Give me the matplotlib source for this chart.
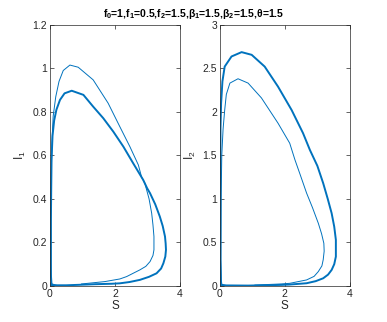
import matplotlib
matplotlib.use("Agg")
import matplotlib.pyplot as plt

plt.rcParams["font.family"] = ["Liberation Sans", "DejaVu Sans"]
plt.rcParams["mathtext.default"] = "regular"

blue = "#0072BD"

# limit cycle (thick) and transient (thin), S vs I1
s1_cycle = [0.05, 0.15, 0.5, 0.87, 1.4, 1.9, 2.15, 2.45, 2.77, 3.05, 3.28, 3.42, 3.49, 3.55,
            3.57, 3.56, 3.54, 3.47, 3.38, 3.24, 3.08, 2.99, 2.87, 2.56, 2.26, 1.95, 1.64, 1.33,
            1.03, 0.67, 0.45, 0.31, 0.2, 0.13, 0.08, 0.05, 0.04, 0.03, 0.03, 0.03, 0.05]
i1_cycle = [0.005, 0.003, 0.003, 0.005, 0.008, 0.01, 0.012, 0.018, 0.028, 0.042, 0.058, 0.08,
            0.104, 0.135, 0.166, 0.195, 0.227, 0.275, 0.319, 0.375, 0.426, 0.449, 0.487, 0.564,
            0.64, 0.709, 0.771, 0.824, 0.878, 0.897, 0.885, 0.855, 0.81, 0.76, 0.69, 0.58, 0.45,
            0.3, 0.15, 0.05, 0.005]
s1_trans = [0.97, 1.69, 2.15, 2.36, 2.77, 2.95, 3.08, 3.17, 3.2, 3.2, 3.17, 3.13, 3.05, 2.92,
            2.82, 2.72, 2.46, 2.15, 1.79, 1.33, 0.87, 0.615, 0.41, 0.28, 0.18, 0.10, 0.06, 0.04,
            0.03, 0.03, 0.05, 0.2]
i1_trans = [0.009, 0.02, 0.032, 0.043, 0.074, 0.09, 0.112, 0.14, 0.166, 0.227, 0.28, 0.334,
            0.40, 0.472, 0.50, 0.556, 0.64, 0.732, 0.84, 0.947, 1.005, 1.015, 0.99, 0.94, 0.87,
            0.78, 0.65, 0.5, 0.3, 0.1, 0.01, 0.003]

# S vs I2
s2_cycle = [0.05, 0.15, 0.87, 1.4, 1.9, 2.15, 2.67, 2.95, 3.18, 3.33, 3.44, 3.52, 3.57, 3.57,
            3.52, 3.44, 3.32, 3.18, 3.0, 2.77, 2.56, 2.21, 1.79, 1.38, 0.98, 0.67, 0.36, 0.15,
            0.08, 0.04, 0.02, 0.02, 0.02, 0.02, 0.03, 0.05]
i2_cycle = [0.01, 0.006, 0.004, 0.008, 0.012, 0.016, 0.031, 0.055, 0.088, 0.13, 0.184, 0.25,
            0.337, 0.529, 0.68, 0.835, 1.0, 1.18, 1.38, 1.563, 1.755, 2.02, 2.29, 2.52, 2.655,
            2.686, 2.636, 2.52, 2.35, 2.1, 1.8, 1.3, 0.8, 0.3, 0.07, 0.01]
s2_trans = [1.08, 1.9, 2.15, 2.67, 2.9, 3.03, 3.14, 3.18, 3.21, 3.2, 3.13, 3.03, 2.85, 2.67,
            2.48, 2.31, 2.15, 1.79, 1.28, 0.87, 0.56, 0.31, 0.2, 0.15, 0.1, 0.06, 0.04, 0.03,
            0.05, 0.2]
i2_trans = [0.01, 0.023, 0.03, 0.069, 0.11, 0.165, 0.23, 0.30, 0.40, 0.49, 0.6, 0.72, 0.9,
            1.066, 1.27, 1.45, 1.64, 1.87, 2.16, 2.33, 2.38, 2.33, 2.2, 2.02, 1.8, 1.5, 1.0, 0.3,
            0.02, 0.005]

fig = plt.figure(figsize=(3.87, 3.22), dpi=100)
ax1 = fig.add_axes([0.129, 0.112, 0.336, 0.811])
ax2 = fig.add_axes([0.568, 0.112, 0.336, 0.811])

panels = [
    (ax1, s1_cycle, i1_cycle, s1_trans, i1_trans, 1.2, [0, 0.2, 0.4, 0.6, 0.8, 1, 1.2],
     ["0", "0.2", "0.4", "0.6", "0.8", "1", "1.2"], "I$_1$"),
    (ax2, s2_cycle, i2_cycle, s2_trans, i2_trans, 3, [0, 0.5, 1, 1.5, 2, 2.5, 3],
     ["0", "0.5", "1", "1.5", "2", "2.5", "3"], "I$_2$"),
]
for ax, sc, ic, st, it, ymax, yt, ytl, ylab in panels:
    ax.plot(st, it, color=blue, lw=0.7)
    ax.plot(sc, ic, color=blue, lw=1.4, solid_joinstyle="round")
    ax.set_xlim(0, 4)
    ax.set_ylim(0, ymax)
    ax.set_xticks([0, 2, 4])
    ax.set_xticklabels(["0", "2", "4"])
    ax.set_yticks(yt)
    ax.set_yticklabels(ytl)
    ax.tick_params(direction="in", length=3, width=0.5, labelsize=7.5, colors="#262626",
                   top=True, right=True, pad=2)
    for sp in ax.spines.values():
        sp.set_linewidth(0.5)
        sp.set_color("#262626")
    ax.set_xlabel("S", fontsize=8.5, color="#262626", labelpad=1)
    ax.set_ylabel(ylab, fontsize=8.5, color="#262626", labelpad=3)

fig.text(0.5, 0.955,
         r"f$_0$=1,f$_1$=0.5,f$_2$=1.5,$\beta_1$=1.5,$\beta_2$=1.5,$\theta$=1.5",
         ha="center", va="center", fontsize=7.5, fontweight="bold")

fig.savefig("out.png", dpi=100)
